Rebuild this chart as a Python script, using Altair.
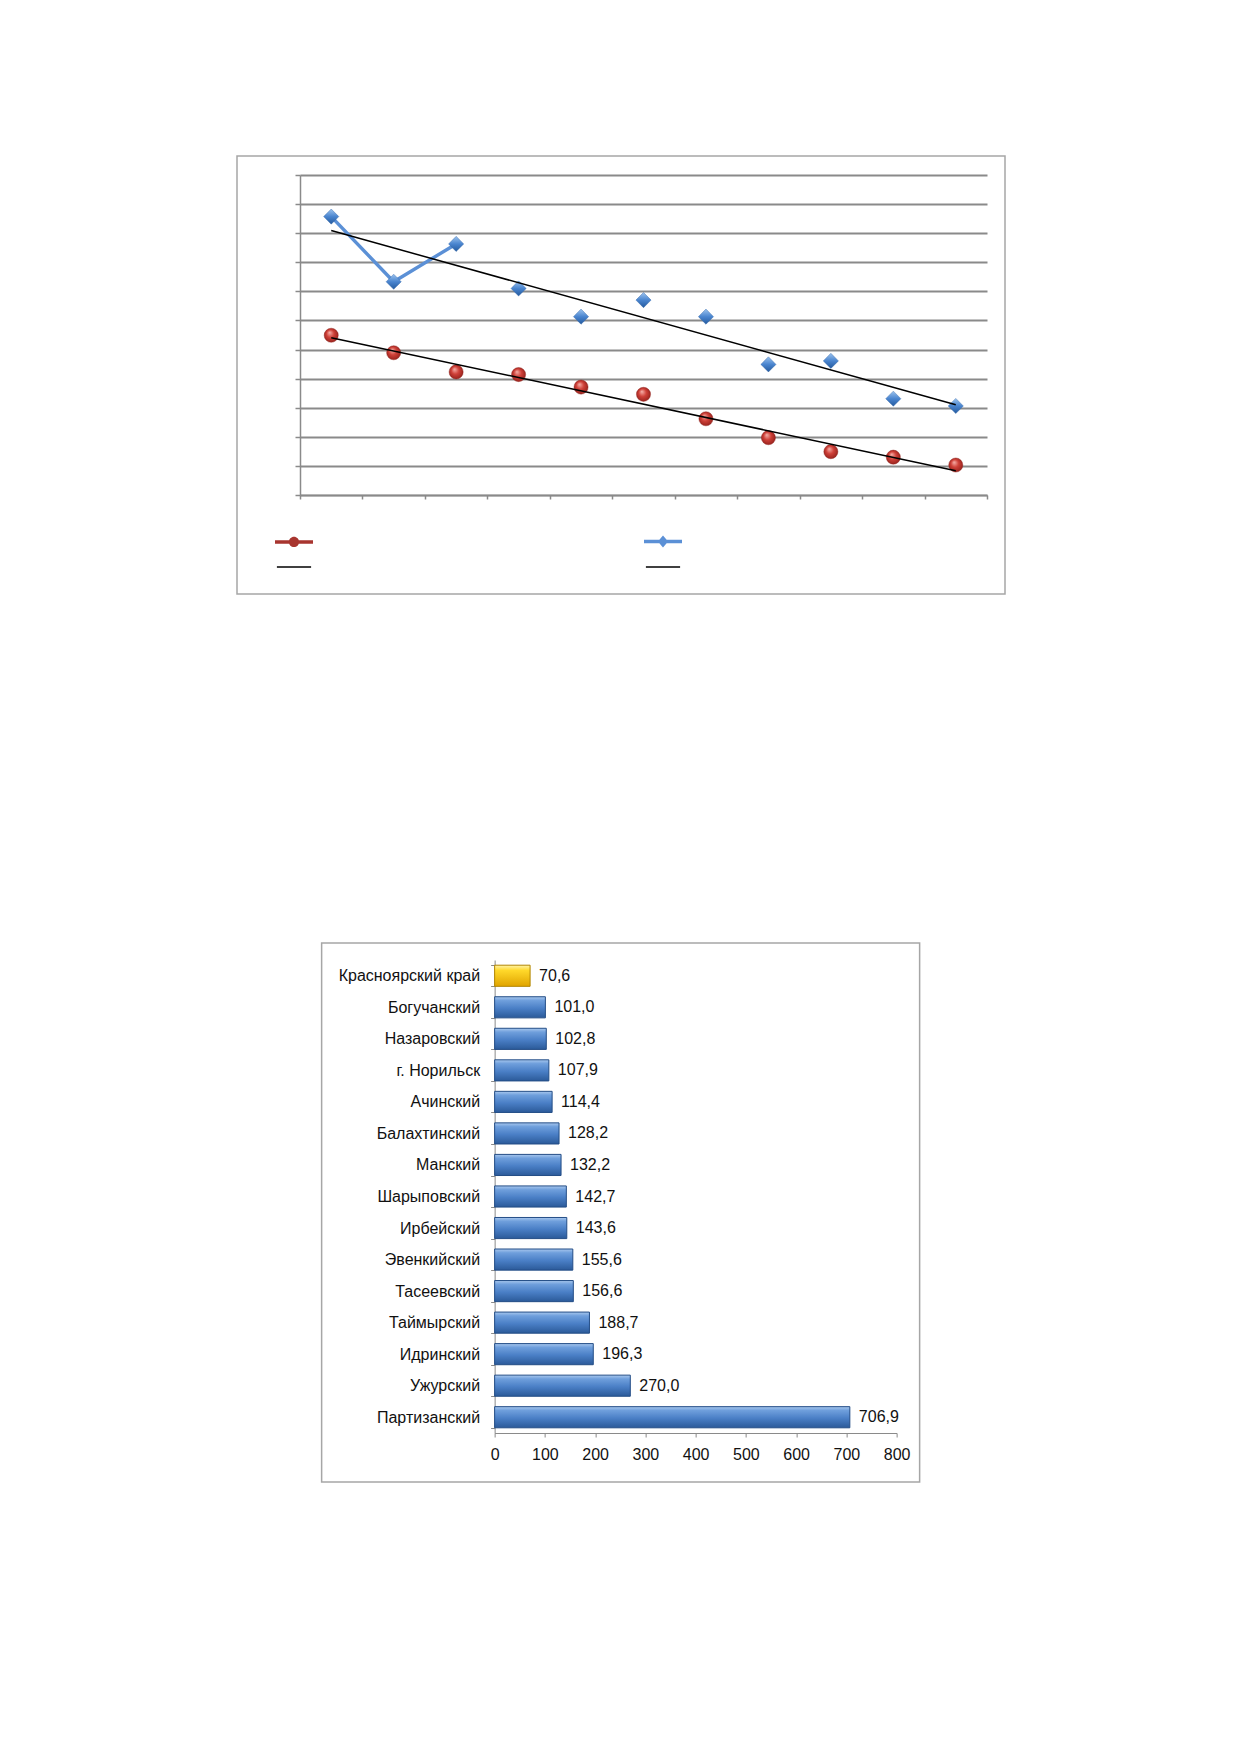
import altair as alt
import pandas as pd

# ---------- top chart data (values in grid units, labels not shown in the source) ----------
periods = list(range(1, 12))
series_red = [5.49, 4.89, 4.23, 4.14, 3.71, 3.46, 2.62, 1.97, 1.49, 1.30, 1.03]
series_blue = [9.57, 7.33, 8.63, 7.10, 6.13, 6.70, 6.13, 4.49, 4.61, 3.31, 3.06]
blue_line_last = 3          # connecting line is visible only through the first three points
y_ticks = list(range(0, 12))
# legend entries, listed column by column (col 1: series 1 + its trend, col 2: series 2 + its trend)
legend_keys = ["Ряд 1", "Линейная (Ряд 1)", "Ряд 2", "Линейная (Ряд 2)"]

# ---------- bottom chart data ----------
districts = ["Красноярский край", "Богучанский", "Назаровский", "г. Норильск ",
             "Ачинский", "Балахтинский", "Манский", "Шарыповский", "Ирбейский",
             "Эвенкийский", "Тасеевский", "Таймырский", "Идринский", "Ужурский",
             "Партизанский"]
rates = [70.6, 101.0, 102.8, 107.9, 114.4, 128.2, 132.2, 142.7, 143.6,
         155.6, 156.6, 188.7, 196.3, 270.0, 706.9]
highlight = ["Красноярский край"]
x_ticks = [0, 100, 200, 300, 400, 500, 600, 700, 800]

FONT = "Liberation Sans"
GRID = "#8a8a8a"
FRAME = "#a6a6a6"

# ================= TOP CHART =================
TW, TH = 687, 320
top_df = pd.DataFrame({"x": periods, "red": series_red, "blue": series_blue})
edges = [p - 0.5 for p in periods] + [periods[-1] + 0.5]

def xenc():
    return alt.X("x:Q", title=None,
                 scale=alt.Scale(domain=[edges[0], edges[-1]], nice=False, zero=False),
                 axis=alt.Axis(values=edges, labels=False, grid=False, tickSize=4,
                               tickColor=GRID, domainColor=GRID, tickWidth=1.5,
                               domainWidth=1.5))

def yenc(field):
    return alt.Y(f"{field}:Q", title=None,
                 scale=alt.Scale(domain=[y_ticks[0], y_ticks[-1]], nice=False),
                 axis=alt.Axis(values=y_ticks, labels=False, grid=True, gridColor=GRID,
                               gridWidth=1.8, tickSize=5, tickColor=GRID, tickWidth=1.5,
                               domainColor=GRID, domainWidth=1.5))

base = alt.Chart(top_df)

red_grad = alt.RadialGradient(gradient="radial", x1=0.38, y1=0.3, r1=0.0,
                              x2=0.5, y2=0.5, r2=0.6,
                              stops=[alt.GradientStop(offset=0, color="#f6b2ab"),
                                     alt.GradientStop(offset=0.45, color="#cf4038"),
                                     alt.GradientStop(offset=1, color="#8a1c17")])
blue_grad = alt.LinearGradient(gradient="linear", x1=0, y1=0, x2=0, y2=1,
                               stops=[alt.GradientStop(offset=0, color="#9cc3ee"),
                                      alt.GradientStop(offset=0.5, color="#4a85cf"),
                                      alt.GradientStop(offset=1, color="#245a9e")])

blue_line = base.transform_filter(alt.datum.x <= blue_line_last).mark_line(
    color="#5b90d6", strokeWidth=3.4).encode(x=xenc(), y=yenc("blue"))

red_pts = base.mark_point(shape="circle", filled=True, size=200, fill=red_grad,
                          stroke="#8a1c17", strokeWidth=0.4, opacity=1).encode(
    x=xenc(), y=yenc("red"))
blue_pts = base.mark_point(shape="diamond", filled=True, size=230, fill=blue_grad,
                           stroke="#2a5fa3", strokeWidth=0.4, opacity=1).encode(
    x=xenc(), y=yenc("blue"))

red_trend = base.transform_regression("x", "red").mark_line(
    color="black", strokeWidth=1.5).encode(x=xenc(), y=yenc("red"))
blue_trend = base.transform_regression("x", "blue").mark_line(
    color="black", strokeWidth=1.5).encode(x=xenc(), y=yenc("blue"))

frame_top = alt.Chart(alt.Data(values=[{}])).mark_rect(
    fillOpacity=0, stroke=FRAME, strokeWidth=1.5).encode(
    x=alt.value(-63), x2=alt.value(TW + 18), y=alt.value(-19), y2=alt.value(TH + 99))
# invisible spacer on the right: the centred layout then shifts the lower panel into place
spacer_top = alt.Chart(alt.Data(values=[{}])).mark_rect(
    fillOpacity=0, strokeOpacity=0, opacity=0).encode(
    x=alt.value(TW), x2=alt.value(815), y=alt.value(0), y2=alt.value(10))

sym_red = "M-1,-0.09L1,-0.09L1,0.09L-1,0.09Z M0.27,0A0.27,0.27 0 1,1 -0.27,0A0.27,0.27 0 1,1 0.27,0Z"
sym_blue = "M-1,-0.09L1,-0.09L1,0.09L-1,0.09Z M0,-0.32L0.27,0L0,0.32L-0.27,0Z"
sym_trend = "M-0.9,-0.04L0.9,-0.04L0.9,0.04L-0.9,0.04Z"

leg = alt.Legend(title=None, orient="none", legendX=-25, legendY=347, columns=2,
                 columnPadding=331, rowPadding=0, labelExpr="''", labelOffset=0,
                 symbolSize=1444, symbolOpacity=1, symbolStrokeWidth=0,
                 labelFontSize=10)
legend_layer = alt.Chart(alt.Data(values=[{"k": k} for k in legend_keys])).mark_point(
    filled=True, opacity=0).encode(
    color=alt.Color("k:N", sort=legend_keys,
                    scale=alt.Scale(domain=legend_keys,
                                    range=["#a8352f", "black", "#5b90d6", "black"]),
                    legend=leg),
    shape=alt.Shape("k:N", sort=legend_keys,
                    scale=alt.Scale(domain=legend_keys,
                                    range=[sym_red, sym_trend, sym_blue, sym_trend]),
                    legend=leg))

top = alt.layer(spacer_top, frame_top, blue_line, red_pts, blue_pts, red_trend,
                blue_trend, legend_layer).properties(width=TW, height=TH)

# ================= BOTTOM CHART =================
BW, BH = 402, 473
bot_df = pd.DataFrame({"d": districts, "v": rates})
bbase = alt.Chart(bot_df).transform_calculate(
    lbl="replace(format(datum.v, '.1f'), '.', ',')")

def bx():
    return alt.X("v:Q", title=None,
                 scale=alt.Scale(domain=[x_ticks[0], x_ticks[-1]], nice=False),
                 axis=alt.Axis(values=x_ticks, grid=False, tickSize=4, tickColor=GRID,
                               domainColor=GRID, labelFontSize=16, labelFont=FONT,
                               labelColor="#111111", labelPadding=9, labelFlush=False))

def by():
    return alt.Y("d:N", title=None, sort=districts,
                 scale=alt.Scale(paddingInner=0.33, paddingOuter=0.165),
                 axis=alt.Axis(tickBand="extent", tickSize=4, tickColor=GRID,
                               domainColor=GRID, labelFontSize=16, labelFont=FONT,
                               labelColor="#111111", labelPadding=11, labelLimit=0))

bar_blue_grad = alt.LinearGradient(gradient="linear", x1=0, y1=0, x2=0, y2=1,
                                   stops=[alt.GradientStop(offset=0, color="#a9c8ee"),
                                          alt.GradientStop(offset=0.18, color="#6f9fdc"),
                                          alt.GradientStop(offset=0.55, color="#4a7fc6"),
                                          alt.GradientStop(offset=1, color="#2b5a99")])
bar_yellow_grad = alt.LinearGradient(gradient="linear", x1=0, y1=0, x2=0, y2=1,
                                     stops=[alt.GradientStop(offset=0, color="#fff3a8"),
                                            alt.GradientStop(offset=0.25, color="#ffd82a"),
                                            alt.GradientStop(offset=1, color="#e0a400")])

bars_blue = bbase.transform_filter(
    ~alt.FieldOneOfPredicate(field="d", oneOf=highlight)).mark_bar(
    fill=bar_blue_grad, stroke="#234d86", strokeWidth=1).encode(x=bx(), y=by())
bars_yellow = bbase.transform_filter(
    alt.FieldOneOfPredicate(field="d", oneOf=highlight)).mark_bar(
    fill=bar_yellow_grad, stroke="#b38600", strokeWidth=1).encode(x=bx(), y=by())
bar_text = bbase.mark_text(align="left", baseline="middle", dx=9, fontSize=16,
                           font=FONT, color="#111111").encode(
    x=bx(), y=by(), text="lbl:N")

frame_bot = alt.Chart(alt.Data(values=[{}])).mark_rect(
    fillOpacity=0, stroke=FRAME, strokeWidth=1.5).encode(
    x=alt.value(-173), x2=alt.value(BW + 23), y=alt.value(-17), y2=alt.value(BH + 49))

bottom = alt.layer(frame_bot, bars_blue, bars_yellow, bar_text).properties(
    width=BW, height=BH)

chart = alt.vconcat(top, bottom, spacing=347, center=True).properties(
    padding={"top": 147, "left": 228, "right": 10, "bottom": 10}
).configure_view(stroke=None).resolve_scale(color="independent", shape="independent")

chart.save("out.html", embed_options={"renderer": "svg", "actions": False})
